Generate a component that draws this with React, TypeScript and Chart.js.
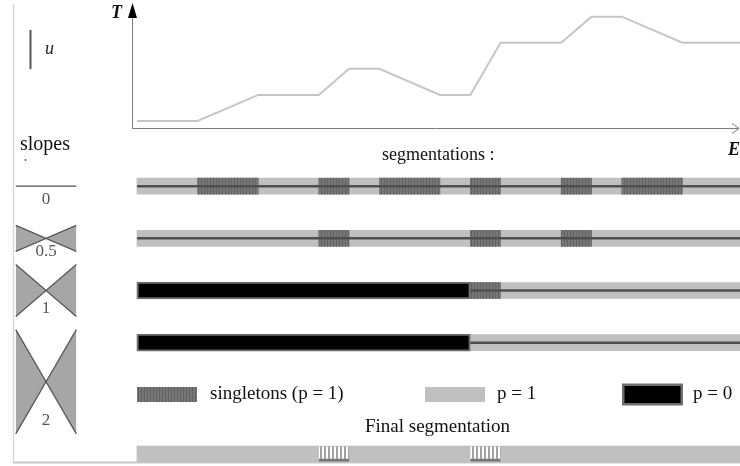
import React, { useEffect, useRef } from 'react';
import { Chart, registerables } from 'chart.js';

Chart.register(...registerables);

// ---------- data ----------
const E_POINTS = [0, 2, 4, 6, 7, 8, 10, 11, 12, 14, 15, 16, 18, 20];
const T_POINTS = [0, 0, 1, 1, 2, 2, 1, 1, 3, 3, 4, 4, 3, 3];
const E_END = 20;
const SLOPE_VALUES = [0, 0.5, 1, 2];
const SLOPE_LABELS = ['0', '0.5', '1', '2'];
const ROW_SINGLETONS: number[][][] = [
  [[2, 4], [6, 7], [8, 10], [11, 12], [14, 15], [16, 18]],
  [[6, 7], [11, 12], [14, 15]],
  [[11, 12]],
  [],
];
const ROW_ZERO: number[][][] = [[], [], [[0, 11]], [[0, 11]]];
const FINAL_SINGLETONS: number[][] = [[6, 7], [11, 12]];
const LEGEND_LABELS = ['singletons (p = 1)', 'p = 1', 'p = 0'];

// ---------- layout (positions in axis units) ----------
const X_MIN = -4.52;
const X_MAX = 19.9;
const Y_MIN = -13.23;
const Y_MAX = 4.64;
const ROW_Y = [-2.5, -4.5, -6.5, -8.5];
const GLYPH_Y = [-2.5, -4.5, -6.5, -10];
const GLYPH_LABEL_Y = [-3.0, -5.0, -7.2, -11.5];
const GLYPH_E = -3;
const FINAL_Y = -12.77;

const SERIF = "'Liberation Serif', 'Times New Roman', serif";

function makePattern(w: number, h: number, draw: (c: CanvasRenderingContext2D) => void): CanvasPattern {
  const c = document.createElement('canvas');
  c.width = w;
  c.height = h;
  const g = c.getContext('2d')!;
  draw(g);
  return g.createPattern(c, 'repeat')!;
}

export default function App() {
  const ref = useRef<HTMLCanvasElement>(null);

  useEffect(() => {
    document.body.style.margin = '0';
    const canvas = ref.current!;

    const singletonPattern = makePattern(3, 4, (g) => {
      g.fillStyle = '#787878';
      g.fillRect(0, 0, 3, 4);
      g.fillStyle = '#5e5e5e';
      g.fillRect(0, 0, 1, 4);
      g.fillStyle = '#707070';
      g.fillRect(0, 3, 3, 1);
    });
    const finalPattern = makePattern(4, 4, (g) => {
      g.fillStyle = '#ffffff';
      g.fillRect(0, 0, 4, 4);
      g.fillStyle = '#a2a2a2';
      g.fillRect(0, 0, 2, 4);
    });

    const datasets: any[] = [];

    // T(E) curve
    datasets.push({
      type: 'line',
      data: E_POINTS.map((e, i) => ({ x: e, y: T_POINTS[i] })),
      borderColor: '#c6c6c6',
      borderWidth: 2,
      pointRadius: 0,
      fill: false,
      order: 5,
    });

    // p = 1 bands for every segmentation row
    datasets.push({
      type: 'bar',
      indexAxis: 'y',
      grouped: false,
      data: ROW_Y.map((r) => ({ x: [0, E_END], y: r })),
      backgroundColor: '#c0c0c0',
      borderWidth: 0,
      barThickness: 16,
      order: 60,
    });

    // singletons
    const singles: any[] = [];
    ROW_SINGLETONS.forEach((segs, i) => segs.forEach((s) => singles.push({ x: [s[0], s[1]], y: ROW_Y[i] })));
    datasets.push({
      type: 'bar',
      indexAxis: 'y',
      grouped: false,
      data: singles,
      backgroundColor: singletonPattern,
      borderWidth: 0,
      barThickness: 16,
      order: 50,
    });

    // center lines
    ROW_Y.forEach((r) => {
      datasets.push({
        type: 'line',
        data: [{ x: 0, y: r }, { x: E_END, y: r }],
        borderColor: '#4f4f4f',
        borderWidth: 2.5,
        pointRadius: 0,
        fill: false,
        order: 40,
      });
    });

    // p = 0 segments
    const zeros: any[] = [];
    ROW_ZERO.forEach((segs, i) => segs.forEach((s) => zeros.push({ x: [s[0], s[1]], y: ROW_Y[i] })));
    datasets.push({
      type: 'bar',
      indexAxis: 'y',
      grouped: false,
      data: zeros,
      backgroundColor: '#000000',
      borderColor: '#6e6e6e',
      borderWidth: 2,
      borderSkipped: false,
      barThickness: 17,
      order: 30,
    });

    // final segmentation
    datasets.push({
      type: 'bar',
      indexAxis: 'y',
      grouped: false,
      data: [{ x: [0, E_END], y: FINAL_Y }],
      backgroundColor: '#c0c0c0',
      borderWidth: 0,
      barThickness: 16,
      order: 60,
    });
    datasets.push({
      type: 'bar',
      indexAxis: 'y',
      grouped: false,
      data: FINAL_SINGLETONS.map((s) => ({ x: [s[0], s[1]], y: FINAL_Y })),
      backgroundColor: finalPattern,
      borderColor: '#777777',
      borderWidth: { top: 0, left: 0, right: 0, bottom: 3 },
      borderSkipped: false,
      barThickness: 15,
      order: 50,
    });

    // slope glyphs
    SLOPE_VALUES.forEach((s, i) => {
      const cy = GLYPH_Y[i];
      if (s === 0) {
        datasets.push({
          type: 'line',
          data: [{ x: GLYPH_E - 1, y: cy }, { x: GLYPH_E + 1, y: cy }],
          borderColor: '#555555',
          borderWidth: 1.2,
          pointRadius: 0,
          fill: false,
          order: 20,
        });
        return;
      }
      datasets.push({
        type: 'line',
        data: [
          { x: GLYPH_E - 1, y: cy + s },
          { x: GLYPH_E, y: cy },
          { x: GLYPH_E + 1, y: cy + s },
        ],
        borderColor: '#555555',
        borderWidth: 1.3,
        pointRadius: 0,
        fill: false,
        order: 20,
      });
      datasets.push({
        type: 'line',
        data: [
          { x: GLYPH_E - 1, y: cy - s },
          { x: GLYPH_E, y: cy },
          { x: GLYPH_E + 1, y: cy - s },
        ],
        borderColor: '#555555',
        borderWidth: 1.3,
        backgroundColor: '#a6a6a6',
        pointRadius: 0,
        fill: '-1',
        order: 20,
      });
    });

    const decor = {
      id: 'decor',
      beforeDatasetsDraw(chart: any) {
        const { ctx } = chart;
        ctx.save();
        // frame
        ctx.strokeStyle = '#d9d9d9';
        ctx.lineWidth = 1.5;
        ctx.beginPath();
        ctx.moveTo(13.5, 4);
        ctx.lineTo(13.5, 462);
        ctx.stroke();
        ctx.strokeStyle = '#c8c8c8';
        ctx.lineWidth = 2;
        ctx.beginPath();
        ctx.moveTo(13, 462.5);
        ctx.lineTo(740, 462.5);
        ctx.stroke();
        ctx.restore();
      },
      afterDatasetsDraw(chart: any) {
        const { ctx, scales } = chart;
        const px = (e: number) => scales.x.getPixelForValue(e);
        const py = (t: number) => scales.y.getPixelForValue(t);
        ctx.save();

        // axes
        const ax = Math.round(px(-0.18)) + 0.5;
        const ay = Math.round(py(-0.25)) + 0.5;
        ctx.strokeStyle = '#7a7a7a';
        ctx.lineWidth = 1;
        ctx.beginPath();
        ctx.moveTo(ax, ay);
        ctx.lineTo(ax, 14);
        ctx.moveTo(ax, ay);
        ctx.lineTo(738, ay);
        ctx.stroke();
        // y arrow (filled)
        ctx.fillStyle = '#000';
        ctx.beginPath();
        ctx.moveTo(ax, 3);
        ctx.lineTo(ax + 4.5, 18);
        ctx.lineTo(ax - 4.5, 18);
        ctx.closePath();
        ctx.fill();
        // x arrow (open)
        ctx.beginPath();
        ctx.moveTo(732, ay - 5);
        ctx.lineTo(739, ay);
        ctx.lineTo(732, ay + 5);
        ctx.stroke();

        // axis names
        ctx.fillStyle = '#111';
        ctx.textBaseline = 'middle';
        ctx.textAlign = 'left';
        ctx.font = `italic bold 18px ${SERIF}`;
        ctx.fillText('T', 111, 13);
        ctx.fillText('E', 728, 150);

        // u marker
        ctx.strokeStyle = '#555';
        ctx.lineWidth = 2;
        ctx.beginPath();
        ctx.moveTo(30.5, 30);
        ctx.lineTo(30.5, 69);
        ctx.stroke();
        ctx.font = `italic 18px ${SERIF}`;
        ctx.fillStyle = '#222';
        ctx.fillText('u', 45, 49);

        // slopes title + labels
        ctx.font = `20px ${SERIF}`;
        ctx.fillStyle = '#111';
        ctx.textBaseline = 'alphabetic';
        ctx.fillText('slopes', 20, 150);
        ctx.fillStyle = '#555';
        ctx.beginPath();
        ctx.arc(25.5, 160, 0.9, 0, Math.PI * 2);
        ctx.fill();
        ctx.font = `17px ${SERIF}`;
        ctx.textAlign = 'center';
        ctx.textBaseline = 'middle';
        SLOPE_LABELS.forEach((lab, i) => {
          ctx.fillText(lab, px(GLYPH_E), py(GLYPH_LABEL_Y[i]));
        });

        // titles
        ctx.fillStyle = '#111';
        ctx.font = `18px ${SERIF}`;
        ctx.textAlign = 'left';
        ctx.fillText('segmentations :', 382, 155);
        ctx.font = `19px ${SERIF}`;
        ctx.textAlign = 'center';
        ctx.fillText('Final segmentation', 437.5, 427);

        // legend
        const ly = 394.5;
        ctx.fillStyle = singletonPattern;
        ctx.fillRect(137, ly - 7.5, 60, 15);
        ctx.fillStyle = '#c0c0c0';
        ctx.fillRect(425, ly - 7.5, 60, 15);
        ctx.fillStyle = '#6e6e6e';
        ctx.fillRect(622, ly - 11, 61, 22);
        ctx.fillStyle = '#000';
        ctx.fillRect(624.5, ly - 8.5, 56, 17);
        ctx.fillStyle = '#111';
        ctx.font = `19px ${SERIF}`;
        ctx.textAlign = 'left';
        ctx.textBaseline = 'middle';
        ctx.fillText(LEGEND_LABELS[0], 210, ly);
        ctx.fillText(LEGEND_LABELS[1], 497, ly);
        ctx.fillText(LEGEND_LABELS[2], 693, ly);

        ctx.restore();
      },
    };

    const chart = new Chart(canvas, {
      type: 'line',
      data: { datasets },
      options: {
        animation: false,
        responsive: false,
        events: [],
        layout: { padding: 0 },
        plugins: {
          legend: { display: false },
          tooltip: { enabled: false },
          title: { display: false },
        },
        elements: { point: { radius: 0 }, line: { tension: 0 } },
        scales: {
          x: { type: 'linear', min: X_MIN, max: X_MAX, display: false, offset: false },
          y: { type: 'linear', min: Y_MIN, max: Y_MAX, display: false, offset: false },
        },
      } as any,
      plugins: [decor],
    } as any);

    return () => chart.destroy();
  }, []);

  return (
    <div style={{ position: 'absolute', left: 0, top: 0, width: 740, height: 466, background: '#fff' }}>
      <canvas ref={ref} width={740} height={466} style={{ display: 'block', width: 740, height: 466 }} />
    </div>
  );
}
